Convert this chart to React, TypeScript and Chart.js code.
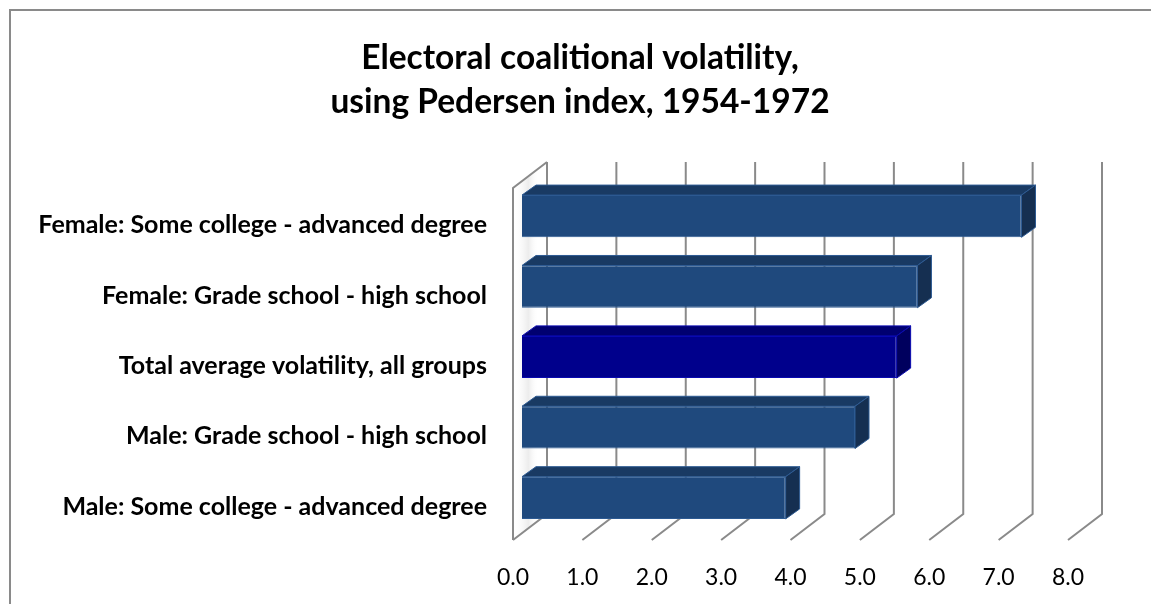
import React, { useEffect, useRef } from 'react';
import { Chart, registerables } from 'chart.js';

Chart.register(...registerables);

const categories = [
  'Female: Some college - advanced degree',
  'Female: Grade school - high school',
  'Total average volatility, all groups',
  'Male: Grade school - high school',
  'Male: Some college - advanced degree',
];
const values = [7.2, 5.7, 5.4, 4.8, 3.8];
const tickValues = [0, 1, 2, 3, 4, 5, 6, 7, 8];
const titleLines = ['Electoral coalitional volatility,', 'using Pedersen index, 1954-1972'];

const frontColors = ['#1F497D', '#1F497D', '#00008C', '#1F497D', '#1F497D'];
const topColors = ['#193A63', '#193A63', '#000070', '#193A63', '#193A63'];
const sideColors = ['#152F51', '#152F51', '#00005E', '#152F51', '#152F51'];
const edgeColors = ['#2D5A92', '#2D5A92', '#0A0AB0', '#2D5A92', '#2D5A92'];

// oblique projection offsets relative to the bar front plane
const FRONT = { dx: -9, dy: 7 };
const BACK = { dx: 25, dy: -19 };
const BAR = { dx: 14, dy: -10 };

const FONT = 'Lato, "Open Sans", sans-serif';

const threeD = {
  id: 'threeD',
  beforeDraw(chart: any) {
    const { ctx } = chart;
    ctx.save();
    ctx.fillStyle = '#ffffff';
    ctx.fillRect(0, 0, chart.width, chart.height);
    ctx.strokeStyle = '#8a8a8a';
    ctx.lineWidth = 2;
    ctx.strokeRect(10, 10, chart.width + 40, chart.height + 40);
    // chart title
    ctx.fillStyle = '#000';
    ctx.font = `bold 33.5px ${FONT}`;
    ctx.textAlign = 'center';
    ctx.textBaseline = 'middle';
    titleLines.forEach((line, i) => ctx.fillText(line, 580, 58 + i * 44));
    ctx.restore();
  },
  beforeDatasetsDraw(chart: any) {
    const { ctx, chartArea } = chart;
    const { top, bottom } = chartArea;
    const x = chart.scales.x;
    const x0 = x.getPixelForValue(0);
    ctx.save();
    // side wall shading
    const g = ctx.createLinearGradient(x0 + FRONT.dx, 0, x0 + BACK.dx, 0);
    g.addColorStop(0, 'rgba(255,255,255,0)');
    g.addColorStop(0.45, 'rgba(200,200,200,0.35)');
    g.addColorStop(0.75, 'rgba(255,255,255,0)');
    ctx.fillStyle = g;
    ctx.beginPath();
    ctx.moveTo(x0 + FRONT.dx, top + FRONT.dy);
    ctx.lineTo(x0 + BACK.dx, top + BACK.dy);
    ctx.lineTo(x0 + BACK.dx, bottom + BACK.dy);
    ctx.lineTo(x0 + FRONT.dx, bottom + FRONT.dy);
    ctx.closePath();
    ctx.fill();

    ctx.strokeStyle = '#8a8a8a';
    ctx.lineWidth = 2;
    ctx.lineJoin = 'miter';
    for (const v of tickValues) {
      const px = x.getPixelForValue(v);
      ctx.beginPath();
      ctx.moveTo(px + BACK.dx, top + BACK.dy);
      ctx.lineTo(px + BACK.dx, bottom + BACK.dy);
      ctx.lineTo(px + FRONT.dx, bottom + FRONT.dy);
      ctx.stroke();
    }
    // side wall outer edge
    ctx.beginPath();
    ctx.moveTo(x0 + FRONT.dx, bottom + FRONT.dy);
    ctx.lineTo(x0 + FRONT.dx, top + FRONT.dy);
    ctx.lineTo(x0 + BACK.dx, top + BACK.dy);
    ctx.stroke();
    ctx.restore();
  },
  afterDatasetsDraw(chart: any) {
    const { ctx } = chart;
    const meta = chart.getDatasetMeta(0);
    ctx.save();
    ctx.lineWidth = 1;
    meta.data.forEach((bar: any, i: number) => {
      const { x, y, base, height } = bar.getProps(['x', 'y', 'base', 'height'], true);
      const y0 = y - height / 2;
      const y1 = y + height / 2;
      const xa = base;
      const xb = x;
      ctx.strokeStyle = edgeColors[i];
      // top face
      ctx.fillStyle = topColors[i];
      ctx.beginPath();
      ctx.moveTo(xa, y0);
      ctx.lineTo(xb, y0);
      ctx.lineTo(xb + BAR.dx, y0 + BAR.dy);
      ctx.lineTo(xa + BAR.dx, y0 + BAR.dy);
      ctx.closePath();
      ctx.fill();
      ctx.stroke();
      // side face
      ctx.fillStyle = sideColors[i];
      ctx.beginPath();
      ctx.moveTo(xb, y0);
      ctx.lineTo(xb + BAR.dx, y0 + BAR.dy);
      ctx.lineTo(xb + BAR.dx, y1 + BAR.dy);
      ctx.lineTo(xb, y1);
      ctx.closePath();
      ctx.fill();
      ctx.stroke();
    });
    ctx.restore();
  },
};

export default function App() {
  const ref = useRef<HTMLCanvasElement | null>(null);
  useEffect(() => {
    if (!ref.current) return;
    const chart = new Chart(ref.current, {
      type: 'bar',
      data: {
        labels: categories,
        datasets: [
          {
            data: values,
            backgroundColor: frontColors,
            borderColor: edgeColors,
            borderWidth: 1,
            categoryPercentage: 1,
            barPercentage: 0.6,
          },
        ],
      },
      options: {
        indexAxis: 'y',
        animation: false,
        responsive: false,
        layout: { padding: { left: 0, right: 74, top: 181, bottom: 0 } },
        plugins: {
          legend: { display: false },
          tooltip: { enabled: false },
          title: { display: false },
        },
        scales: {
          x: {
            type: 'linear',
            min: 0,
            max: 8,
            grid: { display: false, drawTicks: false },
            border: { display: false },
            ticks: {
              stepSize: 1,
              color: '#000',
              font: { family: FONT, size: 23 },
              padding: 31,
              labelOffset: FRONT.dx,
              maxRotation: 0,
              callback: (v: any) => Number(v).toFixed(1),
            },
            afterFit: (s: any) => {
              s.height = 71;
            },
          },
          y: {
            grid: { display: false, drawTicks: false },
            border: { display: false },
            ticks: {
              color: '#000',
              font: { family: FONT, size: 25, weight: 'bold' },
              padding: 35,
              labelOffset: 9,
            },
            afterFit: (s: any) => {
              s.width = 522;
            },
          },
        },
      },
      plugins: [threeD],
    });
    return () => chart.destroy();
  }, []);
  return (
    <div style={{ position: 'absolute', left: 0, top: 0, width: 1151, height: 604 }}>
      <canvas ref={ref} width={1151} height={604} />
    </div>
  );
}
